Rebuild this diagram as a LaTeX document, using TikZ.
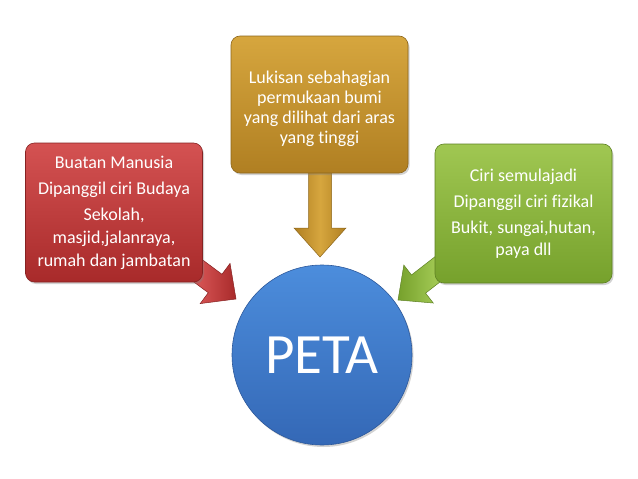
\documentclass[tikz,border=0pt]{standalone}
\usepackage{fontspec}
\setmainfont[Ligatures=NoCommon]{Carlito}
\usetikzlibrary{calc,shadows,backgrounds}
\definecolor{redT}{HTML}{D45252}
\definecolor{redB}{HTML}{A82A2A}
\definecolor{goldT}{HTML}{D6A63E}
\definecolor{goldB}{HTML}{B07F22}
\definecolor{grnT}{HTML}{A0C752}
\definecolor{grnB}{HTML}{76A12C}
\definecolor{bluT}{HTML}{4C8DDC}
\definecolor{bluB}{HTML}{3468B6}
\tikzset{
  infobox/.style={rounded corners=9pt, minimum width=177pt, minimum height=139pt,
    text=white, align=center, inner sep=0pt, line width=0.6pt,
    drop shadow={shadow xshift=1.5pt, shadow yshift=-2pt, opacity=0.35}},
}
\begin{document}
\begin{tikzpicture}[x=1pt,y=-1pt]
\useasboundingbox (0,0) rectangle (638,479);

% nodes
\node[infobox, draw=redB!80!black, top color=redT, bottom color=redB, font=\fontsize{18}{23}\selectfont]
  (buatan) at (114,212.5)
  {Buatan Manusia\\[3pt]Dipanggil ciri Budaya\\[3pt]Sekolah,\\masjid,jalanraya,\\rumah dan jambatan};
\node[infobox, draw=goldB!80!black, top color=goldT, bottom color=goldB, minimum height=137pt, font=\fontsize{18}{20}\selectfont]
  (lukisan) at (319.5,104.5)
  {\rule{0pt}{22pt}Lukisan sebahagian\\permukaan bumi\\yang dilihat dari aras\\yang tinggi};
\node[infobox, draw=grnB!80!black, top color=grnT, bottom color=grnB, font=\fontsize{18}{22}\selectfont]
  (ciri) at (523.5,213.5)
  {Ciri semulajadi\\[4pt]Dipanggil ciri fizikal\\[4pt]Bukit, sungai,hutan,\\paya dll};
\node[circle, minimum size=180pt, inner sep=0pt, draw=bluB!85!black, line width=0.6pt,
  top color=bluT, bottom color=bluB, text=white, font=\fontsize{57}{60}\selectfont,
  drop shadow={shadow xshift=1.5pt, shadow yshift=-2pt, opacity=0.35}]
  (peta) at (322,355) {PETA};

% arrow coordinates
\coordinate (rS) at (170,250);
\coordinate (rT) at (236,299);
\coordinate (gS) at (320,160);
\coordinate (gT) at (320,257);
\coordinate (cS) at (465,248);
\coordinate (cT) at (398,300);

\begin{pgfonlayer}{background}
\fill[white] (0,0) rectangle (638,479);
\foreach \S/\T/\cT/\cB/\L/\H in {rS/rT/redT/redB/26pt/25pt, gS/gT/goldT/goldB/29pt/26pt, cS/cT/grnT/grnB/26pt/24pt}{
  \coordinate (B) at ($(\T)!\L!(\S)$);
  \shade[left color=\cB, right color=\cB, middle color=\cT, draw=\cB!80!black, line width=0.5pt]
    ($(\S)!11.5pt!90:(\T)$) -- ($(B)!11.5pt!-90:(\S)$) -- ($(B)!\H!-90:(\S)$) -- (\T)
    -- ($(B)!\H!90:(\S)$) -- ($(B)!11.5pt!90:(\S)$) -- ($(\S)!11.5pt!-90:(\T)$) -- cycle;
}
\end{pgfonlayer}
\end{tikzpicture}
\end{document}
